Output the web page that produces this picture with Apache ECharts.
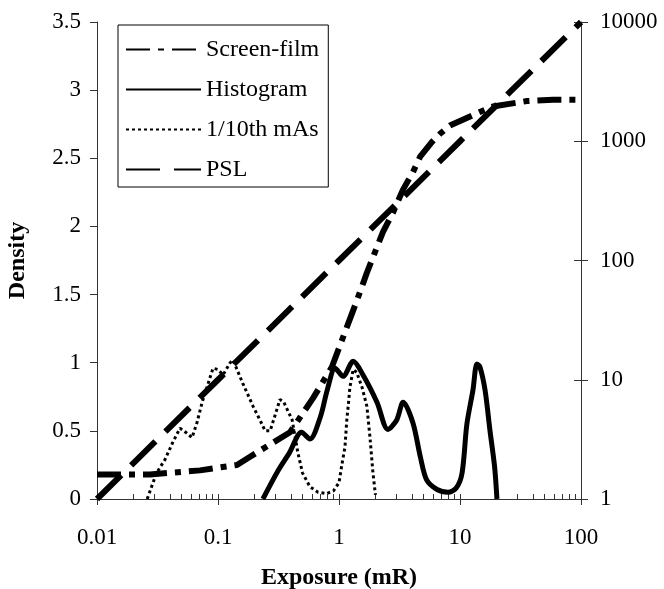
<!DOCTYPE html>
<html><head><meta charset="utf-8">
<script src="https://cdn.jsdelivr.net/npm/echarts@6/dist/echarts.min.js"></script>
<style>html,body{margin:0;padding:0;background:#fff}#c{width:664px;height:589px}</style>
</head><body><div id="c"></div><script>
// ---- data ----
const xTickValues = [0.01, 0.1, 1, 10, 100];
const rightTickValues = [1, 10, 100, 1000, 10000];

const screenFilmExposure = [0.01, 0.0274, 0.071, 0.1435, 0.184, 0.269, 0.394, 0.61, 0.875, 1.23, 1.41, 1.70, 2.31, 2.79, 3.38, 4.09, 4.67, 5.87, 6.84, 8.26, 14.6, 18.7, 35.8, 58.7, 100];
const screenFilmDensity  = [0.18, 0.18, 0.21, 0.25, 0.31, 0.40, 0.49, 0.74, 0.97, 1.32, 1.46, 1.66, 1.96, 2.10, 2.27, 2.40, 2.51, 2.62, 2.68, 2.74, 2.84, 2.88, 2.92, 2.93, 2.93];

const histogramExposure = [0.235, 0.31, 0.39, 0.49, 0.575, 0.70, 0.80, 0.93, 1.08, 1.31, 1.58, 2.06, 2.54, 3.0, 3.39, 4.08, 4.7, 5.3, 6.46, 7.95, 9.3, 10.4, 11.4, 12.8, 13.8, 14.6, 16.1, 17.7, 19.3, 20.2];
const histogramDensity  = [0, 0.20, 0.34, 0.49, 0.44, 0.60, 0.80, 0.96, 0.90, 1.01, 0.91, 0.71, 0.51, 0.58, 0.71, 0.56, 0.31, 0.14, 0.07, 0.05, 0.08, 0.19, 0.55, 0.80, 0.99, 0.97, 0.80, 0.50, 0.24, 0];

const tenthMasExposure = [0.026, 0.031, 0.0365, 0.042, 0.0485, 0.054, 0.061, 0.067, 0.074, 0.081, 0.091, 0.1, 0.11, 0.126, 0.133, 0.16, 0.195, 0.222, 0.245, 0.27, 0.325, 0.35, 0.41, 0.457, 0.5, 0.575, 0.67, 0.79, 0.9, 1.0, 1.06, 1.12, 1.16, 1.2, 1.23, 1.31, 1.4, 1.55, 1.7, 1.8, 1.9, 2.0];
const tenthMasDensity  = [0, 0.19, 0.29, 0.41, 0.52, 0.49, 0.45, 0.56, 0.71, 0.82, 0.96, 0.95, 0.91, 1.0, 1.02, 0.85, 0.68, 0.58, 0.50, 0.50, 0.73, 0.71, 0.58, 0.34, 0.19, 0.09, 0.05, 0.04, 0.06, 0.12, 0.26, 0.38, 0.58, 0.71, 0.82, 0.95, 0.93, 0.82, 0.68, 0.46, 0.21, 0.03];

const pslExposure = [0.01, 0.1, 1, 10, 100];
const pslValue    = [1, 10, 100, 1000, 10000];

// ---- build ----
const zip = (a, b) => a.map((v, i) => [v, b[i]]);
const minorTicks = [];
for (let e = -2; e < 2; e++) for (let k = 1; k <= 9; k++) minorTicks.push(+(k * Math.pow(10, e)).toPrecision(3));
minorTicks.push(100);

const FONT = 'Liberation Serif';
const AX = '#333';
const fmt = v => String(+(+v).toPrecision(6));

const chart = echarts.init(document.getElementById('c'), null, {renderer: 'canvas'});
chart.setOption({
  animation: false,
  backgroundColor: '#fff',
  grid: {left: 97, right: 83, top: 22, bottom: 90, containLabel: false, outerBoundsMode: 'none'},
  legend: {
    orient: 'vertical', left: 118, top: 25,
    itemWidth: 75, itemHeight: 14, itemGap: 13,
    padding: [11, 9, 4, 7],
    borderColor: '#000', borderWidth: 1, backgroundColor: '#fff',
    textStyle: {fontFamily: FONT, fontSize: 24, color: '#000', lineHeight: 27},
    itemStyle: {opacity: 0},
    data: ['Screen-film', 'Histogram', '1/10th mAs', 'PSL']
  },
  xAxis: [
    {
      type: 'log', logBase: 10, min: 0.01, max: 100, position: 'bottom',
      axisLine: {show: true, onZero: false, lineStyle: {color: AX, width: 1}},
      axisTick: {show: true, inside: false, length: 6, customValues: xTickValues, lineStyle: {color: AX}},
      axisLabel: {customValues: xTickValues, formatter: fmt, margin: 27, fontFamily: FONT, fontSize: 23, color: '#000'},
      splitLine: {show: false}, minorTick: {show: false},
      name: 'Exposure (mR)', nameLocation: 'middle', nameGap: 67,
      nameTextStyle: {fontFamily: FONT, fontSize: 24, fontWeight: 'bold', color: '#000'}
    },
    {
      type: 'log', logBase: 10, min: 0.01, max: 100, position: 'bottom',
      axisLine: {show: false, onZero: false},
      axisTick: {show: true, inside: true, length: 5, customValues: minorTicks, lineStyle: {color: AX}},
      axisLabel: {show: false}, splitLine: {show: false}
    }
  ],
  yAxis: [
    {
      type: 'value', min: 0, max: 3.5, interval: 0.5, position: 'left',
      axisLine: {show: true, onZero: false, lineStyle: {color: AX, width: 1}},
      axisTick: {show: true, inside: false, length: 7, lineStyle: {color: AX}},
      axisLabel: {margin: 16, fontFamily: FONT, fontSize: 23, color: '#000'},
      splitLine: {show: false},
      name: 'Density', nameLocation: 'middle', nameGap: 67, nameRotate: 90,
      nameTextStyle: {fontFamily: FONT, fontSize: 24, fontWeight: 'bold', color: '#000'}
    },
    {
      type: 'log', logBase: 10, min: 1, max: 10000, position: 'right',
      axisLine: {show: true, onZero: false, lineStyle: {color: AX, width: 1}},
      axisTick: {show: true, inside: false, length: 7, customValues: rightTickValues, lineStyle: {color: AX}},
      axisLabel: {customValues: rightTickValues, formatter: fmt, margin: 19, fontFamily: FONT, fontSize: 23, color: '#000'},
      splitLine: {show: false}
    },
    {
      type: 'log', logBase: 10, min: 1, max: 10000, position: 'right',
      axisLine: {show: false, onZero: false},
      axisTick: {show: true, inside: true, length: 7, customValues: rightTickValues, lineStyle: {color: AX}},
      axisLabel: {show: false}, splitLine: {show: false}
    }
  ],
  series: [
    {
      name: 'Screen-film', type: 'line', xAxisIndex: 0, yAxisIndex: 0, symbol: 'none',
      data: zip(screenFilmExposure, screenFilmDensity),
      lineStyle: {color: '#000', width: 6, type: [24, 8, 6, 8], cap: 'butt', join: 'round'},
      itemStyle: {color: '#000'}
    },
    {
      name: 'Histogram', type: 'line', xAxisIndex: 0, yAxisIndex: 0, symbol: 'none', smooth: 0.3,
      data: zip(histogramExposure, histogramDensity),
      lineStyle: {color: '#000', width: 5, type: 'solid', join: 'round'},
      itemStyle: {color: '#000'}
    },
    {
      name: '1/10th mAs', type: 'line', xAxisIndex: 0, yAxisIndex: 0, symbol: 'none',
      data: zip(tenthMasExposure, tenthMasDensity),
      lineStyle: {color: '#000', width: 3, type: [3, 3], cap: 'butt'},
      itemStyle: {color: '#000'}
    },
    {
      name: 'PSL', type: 'line', xAxisIndex: 0, yAxisIndex: 1, symbol: 'none',
      data: zip(pslExposure, pslValue),
      lineStyle: {color: '#000', width: 6, type: [34, 14], cap: 'butt'},
      itemStyle: {color: '#000'}
    }
  ]
});
</script></body></html>
